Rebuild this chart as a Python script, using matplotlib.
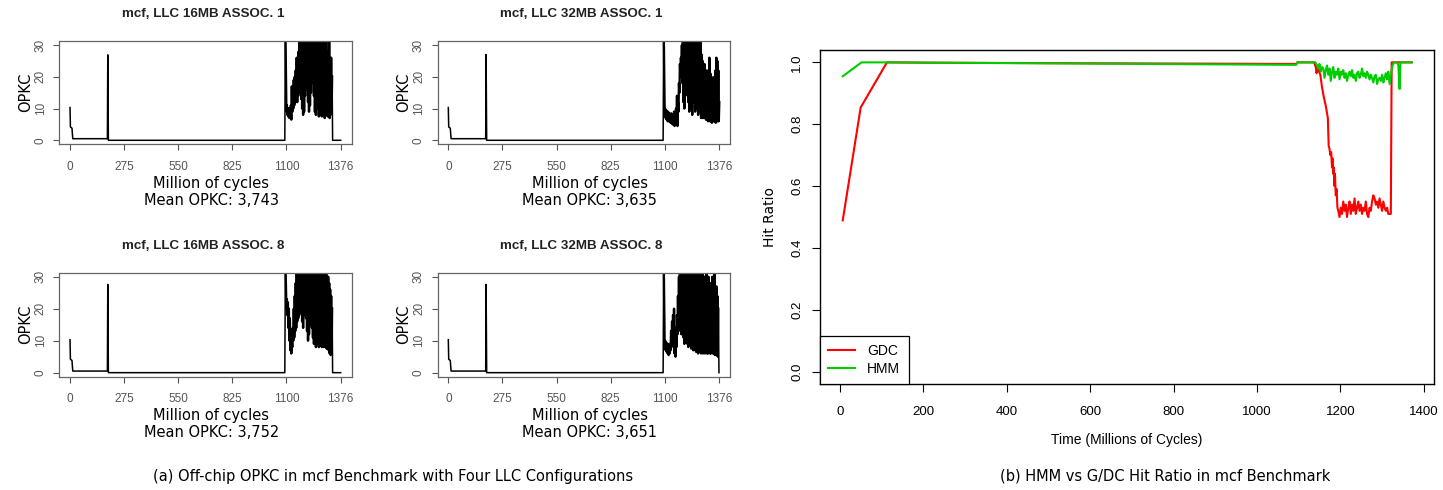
import numpy as np
import matplotlib
matplotlib.use("Agg")
import matplotlib.pyplot as plt

W, H = 1443, 490

# ---------------- panel (a) data: OPKC over time, four LLC configurations
titles_a = ["mcf, LLC 16MB ASSOC. 1", "mcf, LLC 32MB ASSOC. 1",
            "mcf, LLC 16MB ASSOC. 8", "mcf, LLC 32MB ASSOC. 8"]
means_a = ["3,743", "3,635", "3,752", "3,651"]
xticks_a = [0, 275, 550, 825, 1100, 1376]
yticks_a = [0, 10, 20, 30]

# start of the run (same shape in all four runs), spike height differs
head_x = [0, 2, 10, 14, 190, 192, 195, 1092, 1095]
spike_a = [26.9, 27.0, 27.6, 27.6]

# noisy section: lows / highs sampled every 5 M cycles from 1100
p1_low = [9, 8, 7.5, 7, 7, 6.5, 9, 10, 11, 12, 13, 12, 14, 16, 15, 13, 10, 8, 9, 14, 18, 16, 12, 9,
          11, 15, 18, 20, 14, 9, 8, 12, 10, 7.5, 9, 8, 7.5, 10, 8, 7, 9, 8, 7.5, 9, 7, 8, 10]
p1_high = [11, 10, 10, 9, 11, 17, 12, 19, 20, 22, 26, 25, 28, 35, 35, 35, 30, 35, 35, 35, 35, 35, 35, 26,
           35, 35, 35, 35, 35, 26, 35, 35, 35, 24, 35, 35, 25, 30, 35, 26, 35, 28, 25, 35, 24, 26, 20]
p1_tail_x = [1335, 1376]
p1_tail_y = [0, 0]

p2_low = [8, 7, 6.5, 6, 6, 6, 5.5, 5.5, 5, 5, 4.5, 5, 5, 4.5, 9, 15, 20, 22, 18, 12, 10, 14, 20, 18,
          12, 9, 14, 10, 8, 12, 15, 9, 12, 10, 8, 11, 9, 7, 8, 7, 9, 7, 6.5, 7, 6, 6.5, 6, 6,
          5.5, 6, 6, 6, 5.5, 6, 6, 6]
p2_high = [10, 9.5, 9, 9, 8.5, 8, 8.5, 8, 8, 9, 8, 10, 14, 12, 18, 24, 26, 30, 35, 35, 35, 35, 35, 35,
           35, 35, 35, 35, 35, 35, 35, 35, 35, 35, 35, 30, 35, 27, 25, 22, 24, 21, 22, 20, 22, 26, 21, 20,
           19, 18, 20, 22, 26, 25, 22, 12]
p2_tail_x = []
p2_tail_y = []

p3_low = [20, 18, 14, 10, 7, 6, 8, 10, 11, 13, 14, 16, 17, 18, 20, 19, 16, 14, 18, 20, 17, 13, 10, 12,
          15, 17, 14, 11, 9, 12, 8, 10, 9, 8, 9, 8.5, 8, 9, 8, 8.5, 8, 7.5, 8, 7, 6, 5.5, 7]
p3_high = [23, 22, 20, 17, 12, 10, 14, 20, 24, 28, 31, 35, 35, 35, 35, 35, 35, 35, 35, 35, 35, 35, 35, 35,
           35, 35, 35, 35, 35, 35, 35, 35, 35, 35, 35, 35, 35, 28, 35, 30, 35, 26, 30, 28, 26, 24, 20]
p3_tail_x = [1335, 1376]
p3_tail_y = [0, 0]

p4_low = [8, 7, 6.5, 6, 5.5, 6, 7, 8, 10, 9, 6, 5, 8, 12, 14, 15, 13, 12, 14, 11, 9, 10, 12, 9,
          8, 10, 9, 7.5, 8, 7, 8, 7, 6.5, 7, 6, 7, 6.5, 6, 7, 6, 6.5, 6, 7, 6, 6, 6.5, 6, 6,
          6.5, 6, 6, 5.5, 6, 5.5, 5]
p4_high = [10, 9.5, 9, 9, 8.5, 9, 13, 16, 18, 20, 14, 12, 18, 24, 30, 35, 35, 35, 35, 35, 35, 35, 35, 35,
           35, 35, 35, 35, 35, 35, 35, 35, 35, 35, 35, 35, 28, 30, 35, 26, 30, 28, 35, 25, 30, 26, 28, 24,
           30, 26, 32, 25, 27, 24, 20]
p4_tail_x = [1376]
p4_tail_y = [0]

lows_a = [p1_low, p2_low, p3_low, p4_low]
highs_a = [p1_high, p2_high, p3_high, p4_high]
tails_x = [p1_tail_x, p2_tail_x, p3_tail_x, p4_tail_x]
tails_y = [p1_tail_y, p2_tail_y, p3_tail_y, p4_tail_y]

# ---------------- panel (b) data: hit ratio
gdc_x = [7, 50, 113, 200, 600, 1094, 1097, 1137, 1141, 1143, 1146, 1149, 1152, 1156, 1160, 1165, 1170,
         1172, 1174, 1176, 1178, 1180, 1181, 1183, 1184, 1186, 1187, 1189, 1191, 1193]
gdc_y = [0.489, 0.854, 1.0, 0.999, 0.997, 0.995, 1.0, 1.0, 0.985, 0.965, 0.99, 0.97, 0.96, 0.92, 0.89,
         0.86, 0.82, 0.73, 0.72, 0.70, 0.71, 0.66, 0.69, 0.64, 0.66, 0.60, 0.64, 0.57, 0.59, 0.53]
gdc_low_y = [0.52, 0.50, 0.53, 0.51, 0.55, 0.52, 0.54, 0.50, 0.53, 0.55, 0.51, 0.54, 0.52, 0.56,
             0.51, 0.53, 0.55, 0.52, 0.54, 0.51, 0.53, 0.52, 0.55, 0.51, 0.50, 0.53, 0.52, 0.55,
             0.57, 0.56, 0.54, 0.55, 0.53, 0.56, 0.54, 0.52, 0.55, 0.53, 0.52, 0.53, 0.51, 0.51]
gdc_end_x = [1321, 1323, 1330, 1371]
gdc_end_y = [0.51, 1.0, 1.0, 1.0]

hmm_x = [7, 52, 113, 600, 1094, 1097, 1140]
hmm_y = [0.955, 1.0, 1.0, 0.996, 0.992, 1.0, 1.0]
hmm_noise_y = [0.99, 0.98, 0.995, 0.97, 0.985, 0.98, 0.95, 0.975, 0.99, 0.96, 0.98, 0.94, 0.97, 0.985,
               0.95, 0.97, 0.96, 0.98, 0.945, 0.97, 0.96, 0.975, 0.95, 0.965, 0.94, 0.96, 0.97, 0.955,
               0.975, 0.95, 0.96, 0.94, 0.965, 0.97, 0.95, 0.96, 0.98, 0.955, 0.965, 0.95, 0.97, 0.96,
               0.945, 0.96, 0.95, 0.935, 0.955, 0.96, 0.93, 0.945, 0.95, 0.94, 0.96, 0.935, 0.95, 0.965,
               0.945, 0.97, 0.93]
hmm_end_x = [1321, 1325, 1329, 1336, 1339, 1342, 1344, 1371]
hmm_end_y = [0.96, 0.99, 1.0, 1.0, 0.99, 0.914, 1.0, 1.0]

yticks_b = [0.0, 0.2, 0.4, 0.6, 0.8, 1.0]
xticks_b = [0, 200, 400, 600, 800, 1000, 1200, 1400]


def px_axes(fig, left, top, right, bottom):
    return fig.add_axes([left / W, 1 - bottom / H, (right - left) / W, (bottom - top) / H])


def ftext(fig, x, y, s, **kw):
    return fig.text(x / W, 1 - y / H, s, ha="center", va="center", **kw)


fig = plt.figure(figsize=(W / 100, H / 100), dpi=100)

boxes_a = [(59.2, 41.2, 351.5, 144.1), (437.5, 41.2, 729.8, 144.1),
           (59.2, 272.9, 351.5, 376.5), (437.5, 272.9, 729.8, 376.5)]
gray = "#555555"

for i, (l, t, r, b) in enumerate(boxes_a):
    ax = px_axes(fig, l, t, r, b)
    nx = 1100 + 5 * np.arange(len(lows_a[i]))
    zx = np.ravel(np.column_stack([nx, nx + 2.5]))
    zy = np.ravel(np.column_stack([lows_a[i], highs_a[i]]))
    head_y = [10.3, 4.2, 3.8, 0.5, 0.5, spike_a[i], 0.0, 0.0, 35]
    # quiet part of the run, then the dense burst drawn a bit heavier
    ax.plot(head_x, head_y, color="black", lw=1.1)
    ax.plot(np.concatenate([head_x[-1:], zx]), np.concatenate([head_y[-1:], zy]),
            color="black", lw=1.7)
    if tails_x[i]:
        ax.plot(np.concatenate([zx[-1:], tails_x[i]]), np.concatenate([zy[-1:], tails_y[i]]),
                color="black", lw=1.1)
    ax.set_xlim(-55, 1431)
    ax.set_ylim(-1.2, 31.2)
    ax.set_xticks(xticks_a)
    ax.set_xticklabels([str(v) for v in xticks_a])
    ax.set_yticks(yticks_a)
    ax.tick_params(direction="out", length=4, width=0.8, color=gray, labelcolor=gray,
                   labelsize=8.5, pad=8)
    ax.tick_params(axis="y", labelrotation=90, pad=5)
    for lab in ax.get_yticklabels():
        lab.set_va("center")
    for lab in ax.get_xticklabels() + ax.get_yticklabels():
        lab.set_family("Liberation Sans")
    for sp in ax.spines.values():
        sp.set_color("#666666")
        sp.set_linewidth(0.9)
    cx = (l + r) / 2
    ftext(fig, cx - 2, t - 27, titles_a[i], family="Liberation Sans", fontweight="bold",
          fontsize=9.6, color="#222222")
    ftext(fig, cx + 6, b + 39, "Million of cycles", fontsize=10.5)
    ftext(fig, cx + 6, b + 56, "Mean OPKC: " + means_a[i], fontsize=10.5)
    ftext(fig, l - 34, (t + b) / 2, "OPKC", fontsize=10.5, rotation=90)

# ---------------- panel (b)
sans = "Liberation Sans"
axb = px_axes(fig, 820, 50, 1434, 384)
gx = np.concatenate([gdc_x, 1195 + 3 * np.arange(len(gdc_low_y)), gdc_end_x])
gy = np.concatenate([gdc_y, gdc_low_y, gdc_end_y])
hx = np.concatenate([hmm_x, 1144 + 3 * np.arange(len(hmm_noise_y)), hmm_end_x])
hy = np.concatenate([hmm_y, hmm_noise_y, hmm_end_y])
axb.plot(gx, gy, color="#ff0000", lw=1.5, label="GDC")
axb.plot(hx, hy, color="#00cd00", lw=1.5, label="HMM")
axb.set_xlim(-47.5, 1424.5)
axb.set_ylim(-0.04, 1.04)
axb.set_xticks(xticks_b)
axb.set_yticks(yticks_b)
axb.set_yticklabels(["%.1f" % v for v in yticks_b])
axb.tick_params(direction="out", length=6, width=0.8, labelsize=9.5, pad=10)
axb.tick_params(axis="y", labelrotation=90, pad=6)
for lab in axb.get_yticklabels():
    lab.set_va("center")
for lab in axb.get_xticklabels() + axb.get_yticklabels():
    lab.set_family(sans)
for sp in axb.spines.values():
    sp.set_linewidth(1.0)
leg = axb.legend(loc="lower left", borderaxespad=0, fancybox=False, framealpha=1,
                 edgecolor="black", prop={"family": sans, "size": 10},
                 handlelength=1.9, handletextpad=0.9, borderpad=0.6, labelspacing=0.25)
leg.get_frame().set_linewidth(0.9)
ftext(fig, 770, 217, "Hit Ratio", fontsize=10, rotation=90)
ftext(fig, 1127, 440, "Time (Millions of Cycles)", family=sans, fontsize=10)

# ---------------- captions
ftext(fig, 393, 476, "(a) Off-chip OPKC in mcf Benchmark with Four LLC Configurations",
      fontsize=10.5)
ftext(fig, 1165, 476, "(b) HMM vs G/DC Hit Ratio in mcf Benchmark", fontsize=10.5)

fig.savefig("out.png", dpi=100)
